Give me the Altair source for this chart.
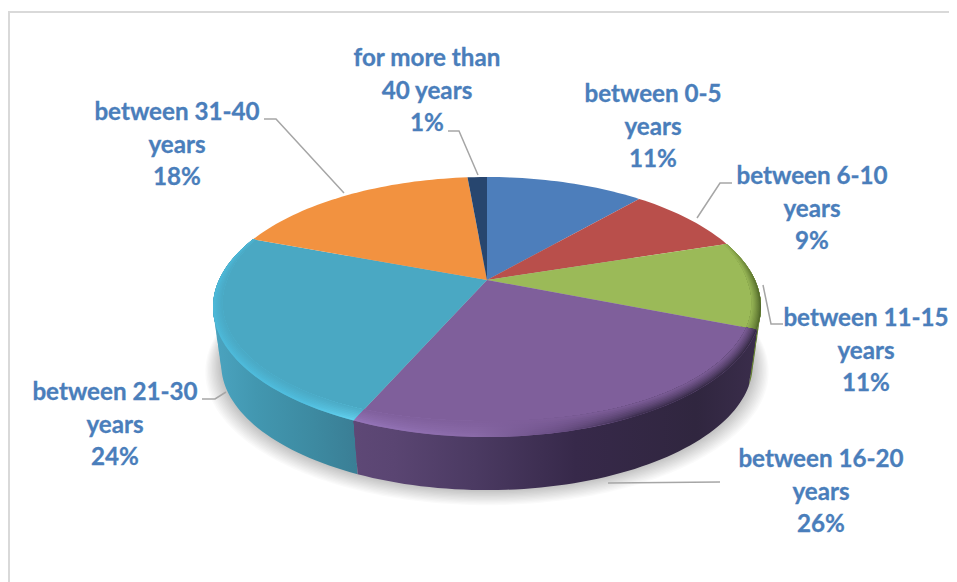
import math
import altair as alt
import pandas as pd

# ---- chart values ----
CATEGORIES = ["between 0-5 years", "between 6-10 years", "between 11-15 years",
              "between 16-20 years", "between 21-30 years", "between 31-40 years",
              "for more than 40 years"]
SHARES = [11.4, 8.6, 11, 25.6, 24.1, 17.9, 1.4]
LABEL_LINES = ["between 0-5\nyears\n11%", "between 6-10\nyears\n9%", "between 11-15\nyears\n11%",
               "between 16-20\nyears\n26%", "between 21-30\nyears\n24%", "between 31-40\nyears\n18%",
               "for more than\n40 years\n1%"]
COLORS = ["#4d7ebb", "#b94f4b", "#9bba58", "#7f5f9b", "#4aa8c3", "#f29240", "#27466f"]

# ---- layout ----
W, H = 941, 574
LABEL_X = [653, 812, 866, 821, 115, 177, 427]
LABEL_Y = [95, 177, 319, 460, 393, 113, 59]
LEADERS = {1: [(732, 183), (720, 183), (697, 218)],
           2: [(763, 285), (771, 324), (783, 324)],
           3: [(608, 483), (720, 482)],
           4: [(202, 399), (215, 399), (226, 392)],
           5: [(264, 119), (276, 119), (344, 193)],
           6: [(448, 131), (459, 131), (478, 175)]}

CX, K = 487.0, 0.2078
TOP = dict(cy=280.0, a=268.0, b=124.4)
LOW = dict(cy=338.0, a=260.0, b=120.5)


def pt(deg, cy, a, b, s=1.0, dy=0.0):
    t = math.radians(deg)
    w = 1 + K * math.cos(t)
    return [CX + s * a * math.sin(t) / w, cy + dy - s * b * math.cos(t) / w]


def arc(d0, d1, geom, **kw):
    n = max(2, int(abs(d1 - d0) / 1.5))
    return [pt(d0 + (d1 - d0) * i / n, **geom, **kw) for i in range(n + 1)]


def between(lam):
    return {k: TOP[k] + (LOW[k] - TOP[k]) * lam for k in TOP}


def feature(ring):
    ring = list(ring) + [ring[0]]
    return {"type": "Feature", "properties": {},
            "geometry": {"type": "Polygon", "coordinates": [ring]}}


def hex2rgb(c):
    return [int(c[i:i + 2], 16) for i in (1, 3, 5)]


def mix(c1, c2, t):
    a, b = hex2rgb(c1), hex2rgb(c2)
    return "#%02x%02x%02x" % tuple(round(x + (y - x) * t) for x, y in zip(a, b))


def grad(stops):
    return alt.LinearGradient(gradient="linear", x1=0, x2=1, y1=0, y2=0,
                              stops=[alt.GradientStop(offset=o, color=c) for o, c in stops])


def poly(ring, **mark):
    return (alt.Chart(alt.Data(values=[feature(ring)]))
            .mark_geoshape(strokeWidth=0, **mark)
            .project(type="identity", scale=1, translate=[-8, -8]))


cum = [0]
for s in SHARES:
    cum.append(cum[-1] + s)
ANG = [c * 3.6 for c in cum]
apex = [CX, TOP["cy"]]

layers = []

# soft shadow beneath the body
M = 12
for i in range(M):
    f = i / (M - 1)
    ring = arc(0, 360, LOW, s=1.06 - 0.055 * f, dy=6 - 6 * f)
    layers.append(poly(ring, fill="#000000", opacity=0.02))

# side wall: swept from the top ellipse down to the lower one
RIM = {
    2: [(0, "#7f9a45"), (1, "#5d7530")],
    4: [(0, "#4ba4c0"), (0.3, "#4297b0"), (0.7, "#3d8aa1"), (1, "#3a7e95")],
    3: [(0, "#5e4876"), (0.1, "#5a4572"), (0.3, "#4b3a62"), (0.55, "#37294a"), (0.85, "#30263f"), (1, "#3a2d4b")],
}
for i in (2, 4, 3):
    d0, d1 = ANG[i], ANG[i + 1]
    for lam in (1.0, 0.8, 0.6, 0.4, 0.2):
        ring = arc(d0, d1, TOP) + arc(d1, d0, between(lam))
        layers.append(poly(ring, fill=grad(RIM[i])))

# top faces
for i in range(len(SHARES)):
    layers.append(poly([apex] + arc(ANG[i], ANG[i + 1], TOP), fill=COLORS[i]))


# bevel: nested bands along the outer edge of the top face
def inset(deg, t):
    v = math.cos(math.radians(deg))
    wpx = max(1.0, 8 + 8 * (-v) if v < 0 else 8 - 16 * v)
    x, y = pt(deg, **TOP)
    d = math.hypot(x - apex[0], y - apex[1])
    f = 1 - t * wpx / d
    return [apex[0] + (x - apex[0]) * f, apex[1] + (y - apex[1]) * f]


BEVEL = {
    2: [(0, "#8aa64d"), (0.5, "#6f8a38"), (1, "#4f6628")],
    4: [(0, "#4cb9d9"), (0.6, "#50bfe0"), (1, "#66d5f2")],
    3: [(0, "#9474b8"), (0.3, "#8a6aa8"), (0.5, "#6a4f85"), (0.7, "#3f3052"), (1, "#352a44")],
}
N = 8
for i in (2, 4, 3):
    d0, d1 = ANG[i], ANG[i + 1]
    inner = [inset(d1 + (d0 - d1) * j / 60, 1.0) for j in range(61)]
    for r in range(N):
        t = r / N
        outer = [inset(d0 + (d1 - d0) * j / 60, t) for j in range(61)]
        fill = grad([(o, mix(c, COLORS[i], t ** 0.8)) for o, c in BEVEL[i]])
        layers.append(poly(outer + inner, fill=fill))

# frame
xs = alt.Scale(domain=[8, 8 + W], range=[0, W])
ys = alt.Scale(domain=[8, 8 + H], range=[0, H])
frame = pd.DataFrame({"n": [0, 1, 2], "x": [9, 9, 957], "y": [582, 12, 12]})
layers.append(alt.Chart(frame).mark_line(color="#d9d9d9", strokeWidth=2, clip=True).encode(
    x=alt.X("x:Q", scale=xs, axis=None), y=alt.Y("y:Q", scale=ys, axis=None), order="n:Q"))

# leader lines
rows = [{"s": k, "n": n, "x": p[0], "y": p[1]} for k, pts in LEADERS.items() for n, p in enumerate(pts)]
layers.append(alt.Chart(pd.DataFrame(rows)).mark_line(color="#a6a6a6", strokeWidth=1.5).encode(
    x=alt.X("x:Q", scale=xs, axis=None), y=alt.Y("y:Q", scale=ys, axis=None),
    detail="s:N", order="n:Q"))

# labels
lab = pd.DataFrame({"label": LABEL_LINES, "cat": CATEGORIES, "x": LABEL_X, "y": LABEL_Y})
layers.append(alt.Chart(lab).mark_text(font="Lato", fontWeight="bold", fontSize=24.2, color="#4a7ebb",
                                       stroke="#4a7ebb", strokeWidth=0.3,
                                       align="center", baseline="middle", lineBreak="\n", lineHeight=32.7).encode(
    x=alt.X("x:Q", scale=xs, axis=None), y=alt.Y("y:Q", scale=ys, axis=None), text="label:N"))

chart = alt.layer(*layers).properties(
    width=W, height=H, padding=0,
    autosize=alt.AutoSizeParams(type="none"), background="#ffffff"
).configure_view(stroke=None)

chart.save("out.html", embed_options={"renderer": "svg", "actions": False})
